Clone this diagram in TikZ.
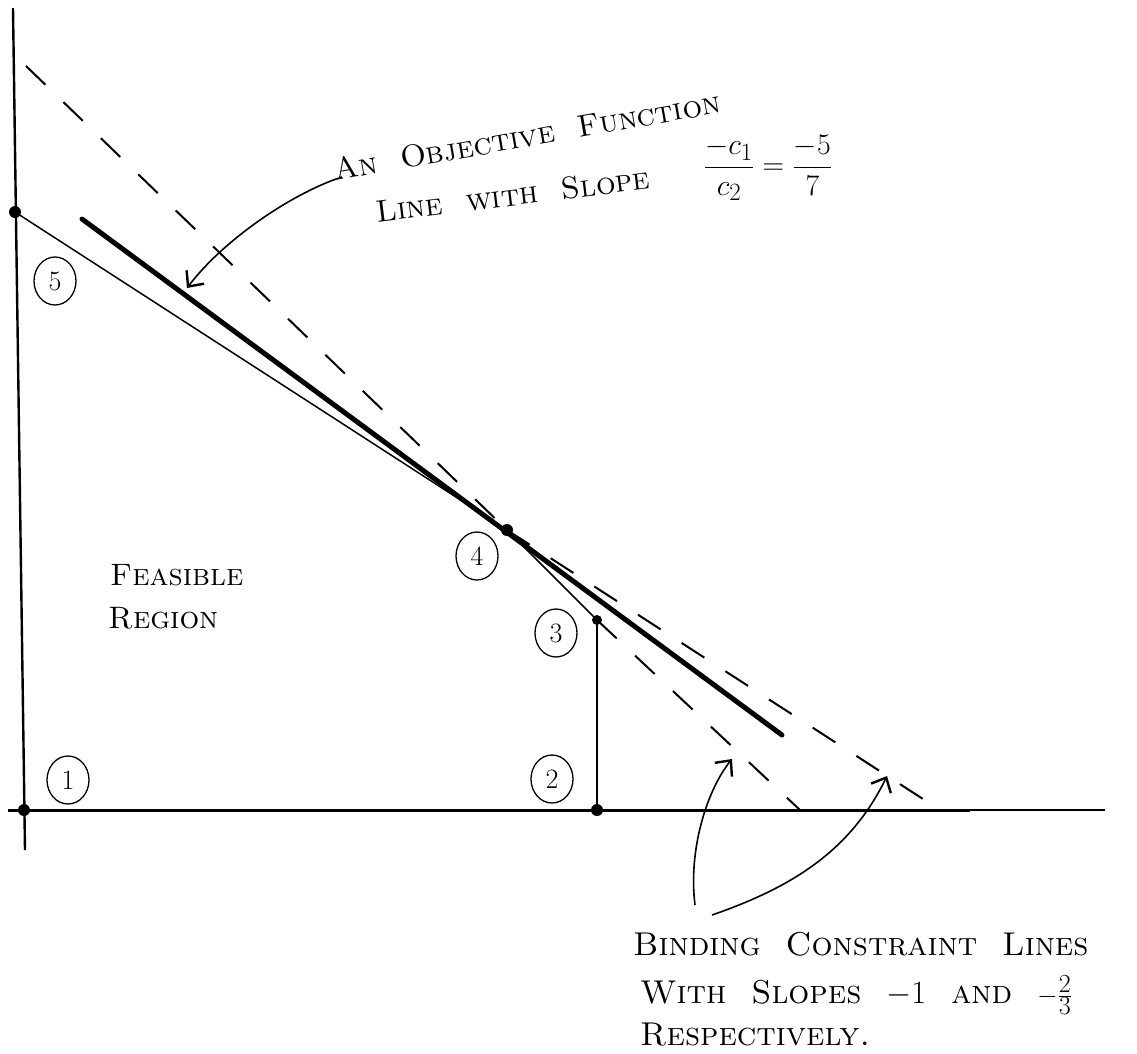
\documentclass[tikz,border=0pt]{standalone}
\usepackage{graphicx}
\usetikzlibrary{arrows.meta,shapes.geometric}
\tikzset{
  axis/.style={line width=2.4pt},
  thinline/.style={line width=1.5pt},
  dashline/.style={line width=2pt, dash pattern=on 27pt off 25pt},
  objline/.style={line width=5pt, line cap=round},
  dot/.style={circle, fill=black, inner sep=0pt, minimum size=12pt},
  lab/.style={ellipse, draw, line width=1.3pt, inner sep=0pt, minimum width=42pt, minimum height=48pt, font=\fontsize{28}{30}\selectfont},
  arr/.style={line width=1.6pt, -{Straight Barb[length=12pt,width=22pt,line width=2.4pt]}},
  hand/.style={font=\fontsize{31}{34}\selectfont\scshape, inner sep=0pt},
  handb/.style={font=\fontsize{33}{36}\selectfont\scshape, inner sep=0pt, anchor=west},
}
\begin{document}
\begin{tikzpicture}[x=1pt,y=-1pt]
\useasboundingbox (0,0) rectangle (1137,1053);
% axes
\coordinate (ytop) at (13,8);
\coordinate (ybot) at (25,850);
\coordinate (xl) at (8,810);
\coordinate (xr) at (1105,810);
\coordinate (xmid) at (970,810);
\draw[axis] (ytop) -- (ybot);
\draw[thinline] (xl) -- (xr);
\draw[axis, line width=3pt] (xl) -- (xmid);
% corner points
\node[dot] (p1) at (24,810) {};
\node[dot] (p2) at (597,810) {};
\node[dot, minimum size=10pt] (p3) at (597,620) {};
\node[dot] (p4) at (507,530) {};
\node[dot] (p5) at (15,212) {};
% constraint lines
\coordinate (d1s) at (26,66);
\coordinate (d1e) at (800,810);
\coordinate (d2e) at (940,810);
\draw[dashline] (d1s) -- (p4.center);
\draw[thinline] (p4.center) -- (p3.center);
\draw[dashline] (p3.center) -- (d1e);
\draw[thinline] (p5.center) -- (p4.center);
\draw[dashline] (p4.center) -- (d2e);
\draw[axis, line width=2.8pt] (p3.center) -- (p2.center);
% objective line
\coordinate (o1) at (82,219);
\coordinate (o2) at (782,735);
\draw[objline] (o1) -- (o2);
% circled labels
\node[lab] (l1) at (68,780) {1};
\node[lab] (l2) at (552,779) {2};
\node[lab] (l3) at (556,633) {3};
\node[lab] (l4) at (477,556) {4};
\node[lab] (l5) at (55,281) {5};
% texts
\node[hand, rotate=10] (t1) at (527,136) {An\ \ Objective\ \ Function};
\node[hand, rotate=7] (t2) at (513,195) {Line\ \ with\ \ Slope};
\node[inner sep=0pt, font=\fontsize{24.88}{28}\selectfont] (t3) at (768,168) {\scalebox{1.2}{$\displaystyle\frac{-c_1}{c_2} = \frac{-5}{7}$}};
\node[hand, anchor=west] (t4) at (110,575) {Feasible};
\node[hand, anchor=west] (t5) at (108,618) {Region};
\node[handb] (t6) at (633,944) {Binding\ \ Constraint\ \ Lines};
\node[handb] (t7) at (640,995) {With\ \ Slopes\ \ \scalebox{1.3}{$-1$}\ \ and\ \ \scalebox{1.05}{$-\frac{2}{3}$}};
\node[handb] (t8) at (640,1035) {Respectively.};
% arrows
\coordinate (a1s) at (342,177);
\coordinate (a1t) at (187,288);
\draw[arr] (a1s) .. controls (295,192) and (225,238) .. (a1t);
\coordinate (a2s) at (695,905);
\coordinate (a2t) at (732,759);
\draw[arr] (a2s) .. controls (688,850) and (707,790) .. (a2t);
\coordinate (a3s) at (712,915);
\coordinate (a3t) at (887,776);
\draw[arr] (a3s) .. controls (790,888) and (850,852) .. (a3t);
\end{tikzpicture}
\end{document}
